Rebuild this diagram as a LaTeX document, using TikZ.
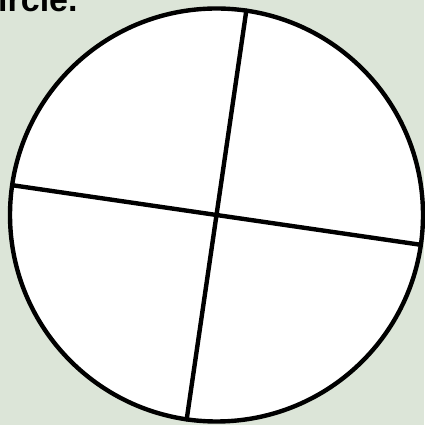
\documentclass[tikz,border=0pt]{standalone}
\usepackage{fontspec}
\setmainfont{Liberation Sans}
\usepackage{xcolor}
\usepackage{tikz}
\usetikzlibrary{calc}
\definecolor{sagebg}{RGB}{220,229,216}

\begin{document}
\begin{tikzpicture}[x=1pt, y=1pt, line cap=round, line join=round]

	%====================
	% 1) 背景与边界
	%====================
	\fill[sagebg] (0,0) rectangle (424,425);
	\useasboundingbox (0,0) rectangle (424,425);

	%====================
	% 2) 圆
	%====================
	\coordinate (O) at (216.5,210);
	\def\rad{206.5pt}
	\draw[line width=4.4pt, fill=white] (O) circle (\rad);

	%====================
	% 3) 两条互相垂直的直径
	%====================
	\def\ang{81.7} % 直径倾角
	\coordinate (P1) at ($(O)+(\ang:\rad)$);
	\coordinate (P2) at ($(O)+(\ang+180:\rad)$);
	\coordinate (Q1) at ($(O)+(\ang+90:\rad)$);
	\coordinate (Q2) at ($(O)+(\ang-90:\rad)$);

	\draw[line width=4.4pt] (P1) -- (P2);
	\draw[line width=4.4pt] (Q1) -- (Q2);

	%====================
	% 4) 标题（顶部被裁切，与原图一致）
	%====================
	\node[anchor=base west, inner sep=0pt,
		font=\bfseries\fontsize{34}{34}\selectfont] (title) at (-2,413) {ircle.};

\end{tikzpicture}
\end{document}
